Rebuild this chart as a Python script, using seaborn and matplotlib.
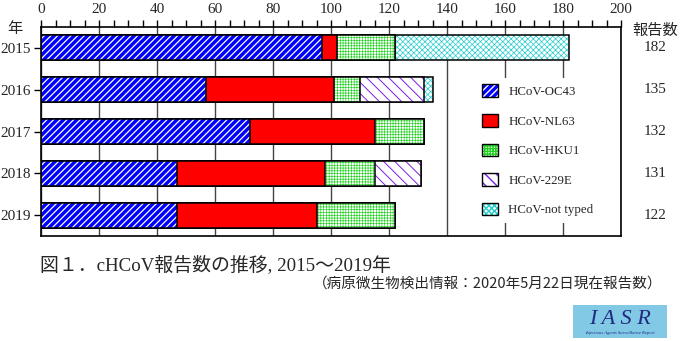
import numpy as np
import pandas as pd
import matplotlib
matplotlib.use("Agg")
import matplotlib.pyplot as plt
import matplotlib.transforms as mtrans
from matplotlib.patches import Patch, Rectangle
from matplotlib.ticker import MultipleLocator
import seaborn as sns

# Reported cHCoV counts per year, broken down by type
years = ["2015", "2016", "2017", "2018", "2019"]
series = ["HCoV-OC43", "HCoV-NL63", "HCoV-HKU1", "HCoV-229E", "HCoV-not typed"]
oc43 = [97, 57, 72, 47, 47]
nl63 = [5, 44, 43, 51, 48]
hku1 = [20, 9, 17, 17, 27]
hcov229e = [0, 22, 0, 16, 0]
not_typed = [60, 3, 0, 0, 0]
totals = [182, 135, 132, 131, 122]
x_ticks = [0, 20, 40, 60, 80, 100, 120, 140, 160, 180, 200]

# (face colour, hatch colour, hatch pattern, hatch line width) per series
styles = [
    ("#0000ff", "#ffffff", "/////", 0.9),
    ("#ff0000", "#ff0000", "", 0.8),
    ("#ffffff", "#22d022", "++++++", 0.45),
    ("#ffffff", "#7a1ee6", "\\\\\\", 0.7),
    ("#ffffff", "#22cccc", "xxxxxx", 0.5),
]

sns.set_theme(style="white")
plt.rcParams["font.family"] = ["Liberation Serif", "Noto Sans CJK JP"]

W, H = 686, 341
fig = plt.figure(figsize=(W / 100, H / 100), dpi=100)
ax = fig.add_axes([41 / W, 1 - 236 / H, 580 / W, 209 / H])

counts = np.array([oc43, nl63, hku1, hcov229e, not_typed])
cum = np.cumsum(counts, axis=0)
df = pd.DataFrame({"year": years})
for name, c in zip(series, cum):
    df[name] = c

# Stacked bars: draw cumulative totals from the back layer to the front
for i in reversed(range(len(series))):
    face, hcol, hatch, hlw = styles[i]
    with plt.rc_context({"hatch.linewidth": hlw}):
        sns.barplot(data=df, x=series[i], y="year", orient="h", width=0.6,
                    color=face, saturation=1, edgecolor=hcol, linewidth=0,
                    hatch=hatch, errorbar=None, ax=ax)
    sns.barplot(data=df, x=series[i], y="year", orient="h", width=0.6,
                color="black", fill=False, linewidth=1.1, errorbar=None, ax=ax)

ax.set_xlim(0, 200)
ax.set_ylim(4.5, -0.5)
ax.set_xlabel("")
ax.set_ylabel("")
ax.xaxis.tick_top()
ax.set_xticks(x_ticks)
ax.xaxis.set_minor_locator(MultipleLocator(5))
ax.tick_params(axis="x", which="both", direction="out", length=5, width=1,
               color="black", labelsize=11, pad=3)
ax.tick_params(axis="y", which="major", direction="out", length=5, width=1,
               color="black", labelsize=11, pad=2, left=True)
ax.set_axisbelow(True)
ax.grid(axis="x", which="major", color="#444444", linewidth=1)
ax.grid(axis="y", visible=False)
for sp in ax.spines.values():
    sp.set_color("black")
    sp.set_linewidth(1.2)

# Legend with a white box that hides the grid lines behind it
handles = []
for face, hcol, hatch, hlw in styles:
    with plt.rc_context({"hatch.linewidth": hlw}):
        fill_patch = Patch(facecolor=face, edgecolor=hcol, hatch=hatch, linewidth=0)
    handles.append((fill_patch,
                    Patch(facecolor="none", edgecolor="black", linewidth=1)))
leg = ax.legend(handles, series, loc="upper left",
                bbox_to_anchor=(476 / W, 1 - 78 / H), bbox_transform=fig.transFigure,
                fontsize=9.3, frameon=True, framealpha=1, facecolor="white",
                edgecolor="none", fancybox=False, borderpad=0.5, borderaxespad=0,
                handlelength=1.2, handleheight=1.15, handletextpad=0.8,
                labelspacing=1.22)

# Year marker and report totals
fig.text(15 / W, 1 - 29 / H, "年", ha="center", va="center", fontsize=11,
         family=["Noto Sans CJK JP"])
fig.text(655 / W, 1 - 30 / H, "報告数", ha="center", va="center", fontsize=11,
         family=["Noto Sans CJK JP"])
tr = mtrans.blended_transform_factory(fig.transFigure, ax.transData)
for i, t in enumerate(totals):
    ax.text(655 / W, i, str(t), transform=tr, ha="center", va="center", fontsize=11)

# Caption
fig.text(40 / W, 1 - 265 / H, "図１．cHCoV報告数の推移, 2015〜2019年", ha="left",
         va="center", fontsize=13.6)
fig.text(662 / W, 1 - 284 / H, "（病原微生物検出情報：2020年5月22日現在報告数）",
         ha="right", va="center", fontsize=10.5, family=["Noto Sans CJK JP", "Liberation Serif"])

# IASR badge
fig.patches.append(Rectangle((573 / W, 1 - 338 / H), 94 / W, 33 / H,
                             transform=fig.transFigure, facecolor="#82c9e6",
                             edgecolor="none", figure=fig))
fig.text(620 / W, 1 - 319 / H, "I A S R", ha="center", va="center", fontsize=16,
         style="italic", color="#1f2a80", family=["Liberation Serif"])
fig.text(620 / W, 1 - 333 / H, "Infectious Agents Surveillance Report", ha="center",
         va="center", fontsize=3.3, style="italic", color="#1f2a80",
         family=["Liberation Serif"])

fig.savefig("out.png", dpi=100)
